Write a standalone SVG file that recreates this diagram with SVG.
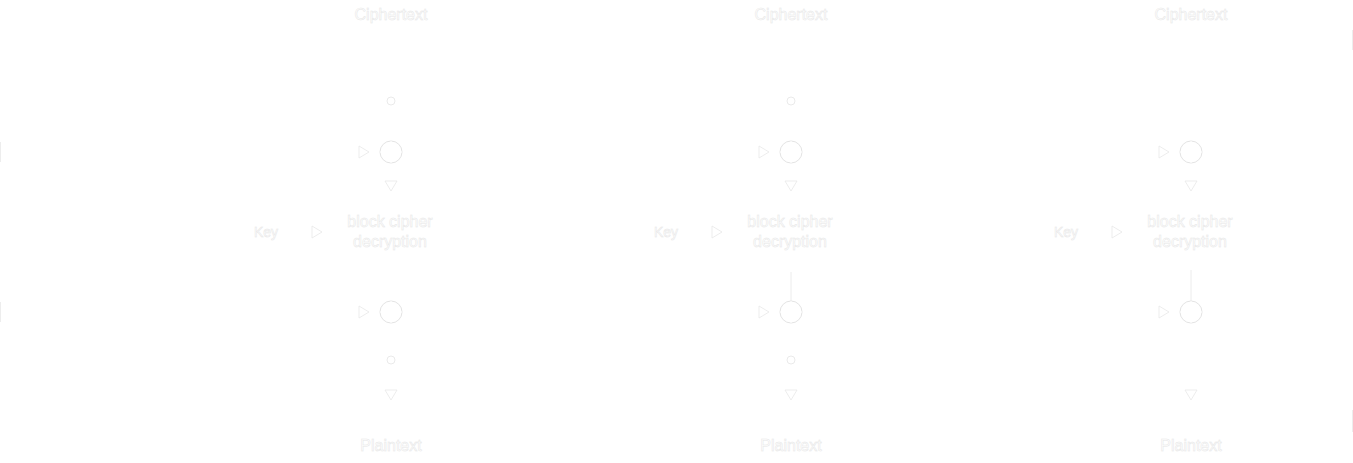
<svg xmlns="http://www.w3.org/2000/svg" width="1353" height="463" viewBox="0 0 1353 463">
<defs>
<style>
.t{font-family:"Liberation Sans",Arial,sans-serif;font-size:16px;fill:#ffffff;stroke:#e6e6e6;stroke-width:0.5;text-anchor:middle}
.k{font-size:14px}
.ln{stroke:#ffffff;stroke-width:1;fill:none}
.vis{stroke:#ececec;stroke-width:1;fill:none}
.x{fill:#ffffff;stroke:#e4e4e4;stroke-width:1}
.plus{stroke:#ffffff;stroke-width:1}
.ah{fill:#ffffff;stroke:#e8e8e8;stroke-width:0.8}
.dot{fill:#ffffff;stroke:#e4e4e4;stroke-width:0.8}
.edge{stroke:#ededed;stroke-width:1}
</style>
<g id="xor"><circle class="x" cx="0" cy="0" r="11"/><line class="plus" x1="-11" y1="0" x2="11" y2="0"/><line class="plus" x1="0" y1="-11" x2="0" y2="11"/></g>
<path id="ar" class="ah" d="M-10,-6 L0,0 L-10,6 Z"/>
<path id="ad" class="ah" d="M-6,-10 L0,0 L6,-10 Z"/>
</defs>
<rect width="1353" height="463" fill="#ffffff"/>
<g id="connectors">
<line class="ln" x1="391" y1="25" x2="391" y2="141"/>
<line class="ln" x1="391" y1="163" x2="391" y2="192"/>
<line class="ln" x1="391" y1="250" x2="391" y2="301"/>
<line class="ln" x1="391" y1="323" x2="391" y2="400"/>
<line class="ln" x1="791" y1="25" x2="791" y2="141"/>
<line class="ln" x1="791" y1="163" x2="791" y2="192"/>
<line class="vis" x1="791" y1="272" x2="791" y2="301"/>
<line class="ln" x1="791" y1="323" x2="791" y2="400"/>
<line class="ln" x1="1191" y1="163" x2="1191" y2="192"/>
<line class="vis" x1="1191" y1="270" x2="1191" y2="301"/>
<line class="ln" x1="1191" y1="323" x2="1191" y2="400"/>
<line class="ln" x1="290" y1="232" x2="322" y2="232"/>
<line class="ln" x1="690" y1="232" x2="722" y2="232"/>
<line class="ln" x1="1090" y1="232" x2="1122" y2="232"/>
<line class="edge" x1="0.5" y1="142" x2="0.5" y2="162"/>
<line class="edge" x1="0.5" y1="302" x2="0.5" y2="322"/>
<line class="edge" x1="1352.5" y1="30" x2="1352.5" y2="50"/>
<line class="edge" x1="1352.5" y1="410" x2="1352.5" y2="432"/>
<use href="#ar" x="369" y="152"/><use href="#ar" x="769" y="152"/><use href="#ar" x="1169" y="152"/>
<use href="#ar" x="369" y="312"/><use href="#ar" x="769" y="312"/><use href="#ar" x="1169" y="312"/>
<use href="#ar" x="322" y="232"/><use href="#ar" x="722" y="232"/><use href="#ar" x="1122" y="232"/>
<use href="#ad" x="391" y="191"/><use href="#ad" x="791" y="191"/><use href="#ad" x="1191" y="191"/>
<use href="#ad" x="391" y="400"/><use href="#ad" x="791" y="400"/><use href="#ad" x="1191" y="400"/>
<circle class="dot" cx="391" cy="101" r="4"/><circle class="dot" cx="791" cy="101" r="4"/>
<circle class="dot" cx="391" cy="360" r="4"/><circle class="dot" cx="791" cy="360" r="4"/>
</g>
<g id="col1">
<text class="t" x="391" y="20">Ciphertext</text>
<use href="#xor" x="391" y="152"/>
<text class="t k" x="266" y="237">Key</text>
<text class="t" x="390" y="227">block cipher</text>
<text class="t" x="390" y="247">decryption</text>
<use href="#xor" x="391" y="312"/>
<text class="t" x="391" y="451">Plaintext</text>
</g>
<g id="col2">
<text class="t" x="791" y="20">Ciphertext</text>
<use href="#xor" x="791" y="152"/>
<text class="t k" x="666" y="237">Key</text>
<text class="t" x="790" y="227">block cipher</text>
<text class="t" x="790" y="247">decryption</text>
<use href="#xor" x="791" y="312"/>
<text class="t" x="791" y="451">Plaintext</text>
</g>
<g id="col3">
<text class="t" x="1191" y="20">Ciphertext</text>
<use href="#xor" x="1191" y="152"/>
<text class="t k" x="1066" y="237">Key</text>
<text class="t" x="1190" y="227">block cipher</text>
<text class="t" x="1190" y="247">decryption</text>
<use href="#xor" x="1191" y="312"/>
<text class="t" x="1191" y="451">Plaintext</text>
</g>
</svg>
